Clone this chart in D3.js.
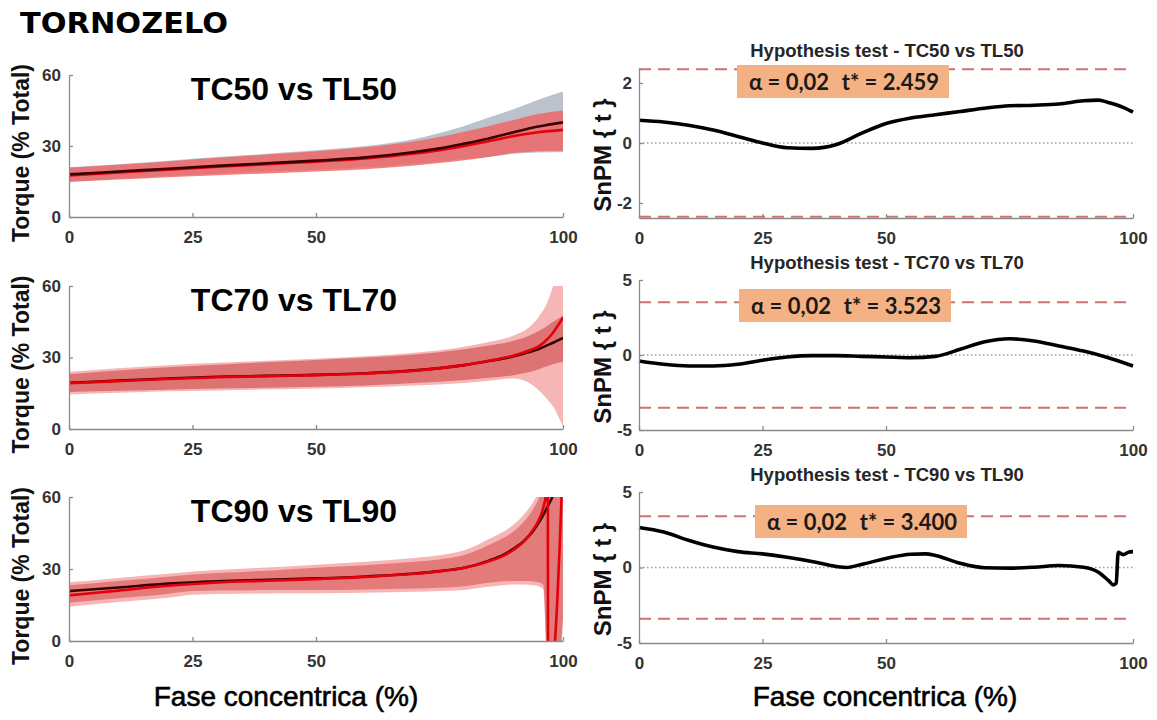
<!DOCTYPE html>
<html>
<head>
<meta charset="utf-8">
<script src="https://cdn.jsdelivr.net/npm/d3@7"></script>
<style>
  body { margin: 0; background: #fff; }
  svg { display: block; font-family: "Liberation Sans", Arial, sans-serif; }
</style>
</head>
<body>
<svg id="chart" width="1157" height="720"></svg>
<script>
// ---- torque curves (% total) over the concentric phase (%) ----
var phase50 = [0, 10, 20, 30, 40, 50, 60, 70, 75, 80, 85, 90, 95, 100];
var tc50Mean  = [18.0, 19.2, 20.4, 21.6, 22.7, 23.8, 25.2, 27.5, 29.0, 31.0, 33.2, 35.8, 38.2, 40.0];
var tl50Mean  = [17.6, 18.8, 20.0, 21.2, 22.3, 23.4, 24.7, 26.8, 28.2, 30.0, 32.0, 34.2, 35.8, 36.8];
var tc50Upper = [21.0, 22.3, 23.8, 25.3, 26.7, 28.2, 30.0, 33.0, 35.5, 38.5, 42.0, 45.5, 49.5, 53.0];
var tc50Lower = [15.0, 16.2, 17.3, 18.3, 19.2, 20.0, 21.0, 22.5, 23.5, 24.5, 25.5, 26.7, 27.3, 27.5];
var tl50Upper = [20.8, 22.1, 23.5, 25.0, 26.4, 27.8, 29.5, 32.0, 33.8, 36.0, 38.5, 41.0, 43.5, 45.0];
var tl50Lower = [14.8, 15.8, 16.8, 17.6, 18.4, 19.2, 20.2, 21.8, 22.8, 24.0, 25.4, 27.0, 27.8, 28.0];

var phase70 = [0, 10, 20, 30, 40, 50, 60, 70, 80, 85, 90, 93, 95, 97, 98, 99, 100];
var tc70Mean  = [19.4, 20.3, 21.2, 21.9, 22.3, 22.7, 23.4, 24.6, 26.8, 28.5, 30.5, 32.2, 33.5, 35.3, 36.2, 37.2, 38.2];
var tl70Mean  = [19.2, 20.1, 21.0, 21.7, 22.2, 22.6, 23.3, 24.5, 26.8, 28.6, 30.8, 32.8, 34.6, 38.0, 40.5, 43.5, 46.8];
var tc70Upper = [23.0, 24.5, 25.9, 27.0, 28.0, 29.0, 30.0, 31.3, 33.5, 35.0, 37.0, 39.0, 41.0, 43.5, 45.0, 46.3, 47.5];
var tc70Lower = [15.5, 16.0, 16.5, 17.0, 17.3, 17.7, 18.3, 19.3, 20.6, 21.5, 22.6, 23.8, 25.0, 26.5, 27.2, 27.8, 28.1];
var tl70Upper = [24.0, 25.5, 26.8, 27.8, 28.6, 29.5, 30.5, 32.0, 34.5, 36.5, 39.2, 42.5, 46.8, 54.0, 60.0, 66.0, 72.0];
var tl70Lower = [14.5, 15.2, 15.8, 16.2, 16.6, 17.0, 17.5, 18.3, 19.3, 20.2, 21.2, 19.5, 16.4, 12.0, 9.4, 5.5, 1.0];

var phase90Band = [0, 10, 20, 25, 30, 40, 50, 60, 70, 75, 80, 85, 90, 92, 94, 95, 96, 96.8, 97.5, 98.5, 99.3, 100];
var tc90Upper = [23.2, 25.0, 26.8, 27.7, 28.3, 29.3, 30.5, 31.6, 33.0, 34.0, 35.8, 40.0, 45.7, 49.5, 55.0, 59.0, 64.0, 70.0, 80.0, 90.0, 100.0, 110.0];
var tc90Lower = [15.9, 17.8, 19.6, 20.8, 21.0, 21.2, 21.2, 21.5, 21.9, 22.2, 22.8, 24.3, 25.0, 25.0, 24.8, 24.5, 23.5, -10, -20, -20, -10, 10];
var tl90Upper = [24.5, 26.3, 28.0, 29.0, 29.6, 30.6, 31.8, 33.0, 34.6, 35.7, 37.8, 42.5, 48.5, 52.5, 58.0, 62.0, 67.0, 73.0, 83.0, 93.0, 103.0, 113.0];
var tl90Lower = [14.3, 16.2, 18.0, 19.3, 19.6, 19.8, 19.9, 20.1, 20.5, 20.8, 21.3, 22.6, 23.5, 23.5, 23.2, 22.8, 21.5, -12, -22, -22, -12, 8];
var tc90Phase = [0, 10, 20, 30, 40, 50, 60, 70, 75, 80, 85, 88, 90, 92, 94, 95, 96, 97, 98, 99, 100];
var tc90Mean  = [20.8, 22.3, 23.9, 24.9, 25.5, 26.1, 26.9, 28.1, 29.1, 30.5, 33.5, 36.0, 38.5, 41.5, 46.0, 49.0, 52.5, 56.5, 61.0, 70.0, 80.0];
var tl90Phase = [0, 10, 20, 30, 40, 50, 60, 70, 75, 80, 85, 88, 90, 92, 94, 95, 96, 96.6, 96.9, 97.0, 97.3, 97.8, 98.3, 98.8, 99.3, 99.7, 100];
var tl90Mean  = [19.0, 21.0, 23.0, 24.4, 25.1, 25.8, 26.7, 28.0, 29.0, 30.5, 33.2, 35.6, 38.0, 41.3, 46.5, 50.0, 55.5, 62, 80, -30, -20, -10, -2, 15, 38, 60, 75];

// ---- SnPM {t} curves ----
var snpm50Phase = [0, 5, 10, 15, 20, 25, 30, 35, 40, 45, 50, 55, 60, 65, 70, 75, 80, 85, 90, 93, 95, 98, 100];
var snpm50 = [0.76, 0.70, 0.59, 0.43, 0.22, 0.0, -0.16, -0.18, -0.05, 0.32, 0.65, 0.83, 0.94, 1.05, 1.16, 1.24, 1.26, 1.30, 1.41, 1.43, 1.35, 1.19, 1.03];
var snpm70Phase = [0, 5, 10, 15, 20, 25, 30, 35, 40, 45, 50, 55, 60, 65, 70, 75, 80, 85, 90, 95, 100];
var snpm70 = [-0.4, -0.62, -0.73, -0.73, -0.62, -0.35, -0.13, -0.04, -0.04, -0.09, -0.13, -0.18, -0.09, 0.38, 0.88, 1.08, 0.93, 0.6, 0.26, -0.18, -0.73];
var snpm90Phase = [0, 5, 10, 15, 20, 25, 30, 35, 40, 42, 45, 50, 55, 58, 60, 65, 70, 75, 80, 85, 90, 93, 95, 96, 96.6, 97, 98, 99, 100];
var snpm90 = [2.65, 2.35, 1.8, 1.35, 1.05, 0.9, 0.68, 0.4, 0.06, 0.0, 0.2, 0.6, 0.88, 0.9, 0.8, 0.28, -0.02, -0.04, 0.02, 0.13, 0.02, -0.31, -0.85, -1.15, -1.05, 1.0, 0.85, 1.0, 1.05];

var torqueTitles = ["TC50 vs TL50", "TC70 vs TL70", "TC90 vs TL90"];
var testTitles = ["Hypothesis test - TC50 vs TL50", "Hypothesis test - TC70 vs TL70", "Hypothesis test - TC90 vs TL90"];
var alphaLevel = "0,02";
var tCritical = [2.459, 3.523, 3.400];
var tLimits = [2.5, 5, 5];
var tTicks = [[-2, 0, 2], [-5, 0, 5], [-5, 0, 5]];
var torqueTicks = [0, 30, 60];
var phaseTicks = [0, 25, 50, 100];

var svg = d3.select("#chart");
var axisGrey = "#8a8a8a";

function styleAxis(sel)
{
    sel.attr("font-family", null).attr("font-size", null);
    sel.select(".domain").attr("stroke", axisGrey).attr("stroke-width", 1.3);
    sel.selectAll(".tick line").attr("stroke", axisGrey).attr("stroke-width", 1.3);
    sel.selectAll(".tick text")
        .attr("fill", "#333")
        .style("font-family", "'Liberation Sans', Arial, sans-serif")
        .style("font-size", "17px")
        .style("font-weight", "bold");
}

/** Left column: mean torque curves with their SD bands. */
function torquePanel(id, top, bottom, title, bands, lines)
{
    var x = d3.scaleLinear().domain([0, 100]).range([69, 563]);
    var y = d3.scaleLinear().domain([0, 60]).range([bottom, top]);

    svg.append("clipPath").attr("id", "clip" + id)
        .append("rect")
        .attr("x", x(0)).attr("y", y(60))
        .attr("width", x(100) - x(0)).attr("height", y(0) - y(60));

    var plot = svg.append("g").attr("clip-path", "url(#clip" + id + ")");

    bands.forEach(function(b)
    {
        var area = d3.area()
            .x(function(d, i) { return x(b.x[i]); })
            .y0(function(d, i) { return y(b.lo[i]); })
            .y1(function(d, i) { return y(b.hi[i]); })
            .curve(d3.curveMonotoneX);
        plot.append("path").datum(b.x)
            .attr("d", area)
            .attr("fill", b.fill)
            .attr("opacity", b.opacity);
    });

    lines.forEach(function(l)
    {
        var line = d3.line()
            .x(function(d, i) { return x(l.x[i]); })
            .y(function(d, i) { return y(l.y[i]); })
            .curve(d3.curveMonotoneX);
        plot.append("path").datum(l.x)
            .attr("d", line)
            .attr("fill", "none")
            .attr("stroke", l.color)
            .attr("stroke-width", 2.6);
    });

    svg.append("g")
        .attr("transform", "translate(0," + y(0) + ")")
        .call(d3.axisBottom(x).tickValues(phaseTicks).tickFormat(String)
            .tickSizeInner(-4).tickSizeOuter(0).tickPadding(14))
        .call(styleAxis);

    svg.append("g")
        .attr("transform", "translate(" + x(0) + ",0)")
        .call(d3.axisLeft(y).tickValues(torqueTicks).tickFormat(String)
            .tickSizeInner(-4).tickSizeOuter(0).tickPadding(8))
        .call(styleAxis);

    svg.append("text")
        .attr("x", 294).attr("y", top + 25)
        .attr("text-anchor", "middle")
        .style("font-size", "32px").style("font-weight", "bold")
        .attr("fill", "#000")
        .text(title);

    svg.append("text")
        .attr("transform", "translate(29," + ((top + bottom) / 2 + 7) + ") rotate(-90)")
        .attr("text-anchor", "middle")
        .style("font-size", "23px").style("font-weight", "bold")
        .attr("fill", "#111")
        .text("Torque (% Total)");
}

/** Right column: SnPM {t} trajectory with critical threshold. */
function testPanel(id, top, bottom, px, py, box)
{
    var lim = tLimits[id];
    var tcrit = tCritical[id];
    var x = d3.scaleLinear().domain([0, 100]).range([639, 1133]);
    var y = d3.scaleLinear().domain([-lim, lim]).range([bottom, top]);

    svg.append("line")
        .attr("x1", x(0)).attr("x2", x(100))
        .attr("y1", y(0)).attr("y2", y(0))
        .attr("stroke", "#9a9a9a").attr("stroke-width", 1.5)
        .attr("stroke-dasharray", "1.5,2.5");

    [tcrit, -tcrit].forEach(function(t)
    {
        svg.append("line")
            .attr("x1", x(0)).attr("x2", x(100))
            .attr("y1", y(t)).attr("y2", y(t))
            .attr("stroke", "#d07272").attr("stroke-width", 2)
            .attr("stroke-dasharray", "12,7");
    });

    var line = d3.line()
        .x(function(d, i) { return x(px[i]); })
        .y(function(d, i) { return y(py[i]); })
        .curve(d3.curveMonotoneX);
    svg.append("path").datum(px)
        .attr("d", line)
        .attr("fill", "none")
        .attr("stroke", "#000")
        .attr("stroke-width", 3.6);

    svg.append("g")
        .attr("transform", "translate(0," + y(-lim) + ")")
        .call(d3.axisBottom(x).tickValues(phaseTicks).tickFormat(String)
            .tickSizeInner(-4).tickSizeOuter(0).tickPadding(14))
        .call(styleAxis);

    svg.append("g")
        .attr("transform", "translate(" + x(0) + ",0)")
        .call(d3.axisLeft(y).tickValues(tTicks[id]).tickFormat(String)
            .tickSizeInner(-4).tickSizeOuter(0).tickPadding(7))
        .call(styleAxis);

    svg.append("text")
        .attr("x", 887).attr("y", top - 11)
        .attr("text-anchor", "middle")
        .style("font-size", "18.5px").style("font-weight", "bold")
        .attr("fill", "#262626")
        .text(testTitles[id]);

    svg.append("text")
        .attr("transform", "translate(611," + ((top + bottom) / 2 + 12) + ") rotate(-90)")
        .attr("text-anchor", "middle")
        .style("font-size", "24px").style("font-weight", "bold")
        .attr("fill", "#111")
        .text("SnPM { t }");

    svg.append("rect")
        .attr("x", box[0]).attr("y", box[1])
        .attr("width", box[2]).attr("height", box[3])
        .attr("fill", "#f4b183");

    // two separate runs so the gap between them matches the original
    [["start", box[0] + 12, "\u03b1 = " + alphaLevel],
     ["end", box[0] + box[2] - 10, "t* = " + tcrit.toFixed(3)]].forEach(function(p)
    {
        svg.append("text")
            .attr("x", p[1]).attr("y", box[1] + box[3] / 2 + 8)
            .attr("text-anchor", p[0])
            .style("font-family", "Lato, 'Open Sans', sans-serif")
            .style("font-size", "22px").style("font-weight", "bold")
            .attr("fill", "#1a1a1a")
            .text(p[2]);
    });
}

torquePanel(0, 75, 217, torqueTitles[0],
    [{ x: phase50, lo: tc50Lower, hi: tc50Upper, fill: "#aab3be", opacity: 0.8 },
     { x: phase50, lo: tl50Lower, hi: tl50Upper, fill: "#f06464", opacity: 0.82 }],
    [{ x: phase50, y: tl50Mean, color: "#e3000b" },
     { x: phase50, y: tc50Mean, color: "#3b0000" }]);

torquePanel(1, 286, 429, torqueTitles[1],
    [{ x: phase70, lo: tl70Lower, hi: tl70Upper, fill: "#f6a9a9", opacity: 0.85 },
     { x: phase70, lo: tc70Lower, hi: tc70Upper, fill: "#c83c3c", opacity: 0.55 }],
    [{ x: phase70, y: tc70Mean, color: "#3b0000" },
     { x: phase70, y: tl70Mean, color: "#e3000b" }]);

torquePanel(2, 497, 641, torqueTitles[2],
    [{ x: phase90Band, lo: tl90Lower, hi: tl90Upper, fill: "#f6a9a9", opacity: 0.85 },
     { x: phase90Band, lo: tc90Lower, hi: tc90Upper, fill: "#d44a4a", opacity: 0.55 }],
    [{ x: tc90Phase, y: tc90Mean, color: "#3b0000" },
     { x: tl90Phase, y: tl90Mean, color: "#e3000b" }]);

testPanel(0, 68, 218, snpm50Phase, snpm50, [737, 65, 212, 33]);
testPanel(1, 280, 430, snpm70Phase, snpm70, [739, 289, 212, 33]);
testPanel(2, 492, 643, snpm90Phase, snpm90, [755, 505, 212, 33]);

svg.append("text")
    .attr("x", 20).attr("y", 33)
    .attr("textLength", 208).attr("lengthAdjust", "spacingAndGlyphs")
    .style("font-family", "'DejaVu Sans', sans-serif")
    .style("font-size", "29px").style("font-weight", "bold")
    .attr("fill", "#000")
    .text("TORNOZELO");

[286, 885].forEach(function(cx)
{
    svg.append("text")
        .attr("x", cx).attr("y", 706)
        .attr("text-anchor", "middle")
        .style("font-size", "28px")
        .attr("fill", "#000")
        .attr("stroke", "#000").attr("stroke-width", 0.6)
        .text("Fase concentrica (%)");
});
</script>
</body>
</html>
